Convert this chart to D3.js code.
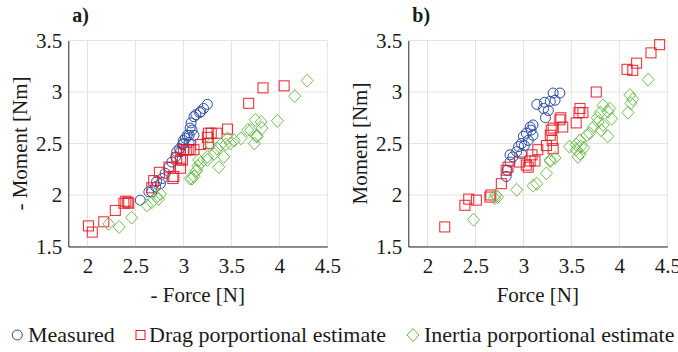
<!DOCTYPE html>
<html>
<head>
<meta charset="utf-8">
<script src="https://cdn.jsdelivr.net/npm/d3@7"></script>
<style>
  body { margin: 0; background: #fff; }
</style>
</head>
<body>
<svg id="chart" width="678" height="352"></svg>
<script>
// panel a) -Force vs -Moment
let measA = [[2.55,1.95],[2.64,2.03],[2.67,2.03],[2.71,2.08],[2.72,2.13],[2.76,2.11],[2.78,2.16],[2.81,2.21],[2.85,2.27],[2.88,2.32],[2.92,2.37],[2.93,2.42],[2.96,2.45],[2.97,2.42],[2.99,2.49],[3.0,2.50],[3.0,2.53],[3.02,2.55],[3.04,2.58],[3.06,2.51],[3.06,2.58],[3.07,2.65],[3.08,2.70],[3.09,2.63],[3.11,2.58],[3.11,2.76],[3.13,2.78],[3.17,2.80],[3.18,2.81],[3.21,2.84],[3.25,2.88]]
let dragA = [[2.01,1.70],[2.05,1.64],[2.17,1.74],[2.29,1.85],[2.38,1.92],[2.40,1.94],[2.42,1.93],[2.43,1.92],[2.67,2.07],[2.69,2.14],[2.75,2.22],[2.85,2.27],[2.89,2.16],[2.90,2.18],[2.93,2.36],[2.97,2.26],[2.97,2.34],[2.99,2.34],[3.0,2.44],[3.03,2.44],[3.05,2.44],[3.07,2.44],[3.11,2.44],[3.18,2.49],[3.25,2.56],[3.26,2.50],[3.26,2.60],[3.29,2.60],[3.35,2.60],[3.46,2.64],[3.68,2.89],[3.83,3.04],[4.05,3.06]]
let inertA = [[2.22,1.72],[2.33,1.69],[2.46,1.78],[2.62,1.90],[2.67,1.93],[2.72,1.98],[2.74,1.96],[2.76,2.01],[3.07,2.16],[3.09,2.16],[3.11,2.18],[3.13,2.23],[3.14,2.24],[3.15,2.28],[3.16,2.34],[3.18,2.31],[3.25,2.34],[3.25,2.37],[3.28,2.49],[3.32,2.40],[3.35,2.45],[3.37,2.27],[3.39,2.49],[3.42,2.37],[3.44,2.49],[3.46,2.55],[3.49,2.50],[3.53,2.53],[3.60,2.55],[3.67,2.63],[3.70,2.63],[3.74,2.50],[3.75,2.73],[3.76,2.57],[3.77,2.57],[3.81,2.71],[3.82,2.65],[3.98,2.72],[4.16,2.96],[4.29,3.11]]

// panel b) Force vs Moment
let measB = [[2.82,2.18],[2.83,2.24],[2.86,2.32],[2.86,2.39],[2.89,2.37],[2.93,2.42],[2.95,2.47],[2.98,2.40],[2.98,2.50],[3.0,2.57],[3.01,2.48],[3.03,2.60],[3.05,2.53],[3.07,2.66],[3.08,2.63],[3.10,2.58],[3.10,2.68],[3.14,2.88],[3.21,2.84],[3.22,2.90],[3.23,2.75],[3.26,2.82],[3.28,2.91],[3.31,2.99],[3.33,2.92],[3.38,2.99]]
let dragB = [[2.18,1.69],[2.39,1.90],[2.43,1.96],[2.51,1.95],[2.65,1.98],[2.66,2.00],[2.77,2.11],[2.82,2.24],[2.84,2.27],[2.96,2.32],[3.03,2.29],[3.05,2.27],[3.07,2.33],[3.09,2.39],[3.12,2.33],[3.15,2.44],[3.24,2.48],[3.28,2.58],[3.29,2.63],[3.30,2.53],[3.31,2.45],[3.31,2.65],[3.38,2.73],[3.39,2.75],[3.41,2.66],[3.55,2.70],[3.58,2.80],[3.59,2.84],[3.62,2.80],[3.76,3.00],[4.08,3.22],[4.14,3.21],[4.18,3.28],[4.33,3.38],[4.42,3.46]]
let inertB = [[2.48,1.76],[2.70,1.97],[2.71,2.00],[2.73,1.98],[2.93,2.05],[3.10,2.09],[3.14,2.11],[3.24,2.21],[3.28,2.33],[3.28,2.34],[3.33,2.36],[3.48,2.47],[3.55,2.44],[3.55,2.49],[3.57,2.37],[3.59,2.40],[3.59,2.53],[3.60,2.47],[3.63,2.46],[3.66,2.58],[3.69,2.60],[3.73,2.66],[3.77,2.75],[3.78,2.71],[3.80,2.80],[3.81,2.63],[3.83,2.68],[3.83,2.87],[3.88,2.57],[3.88,2.81],[3.90,2.84],[3.92,2.74],[4.09,2.80],[4.11,2.97],[4.12,2.89],[4.14,2.93],[4.30,3.12]]

let xTicks = [2, 2.5, 3, 3.5, 4, 4.5]
let yTicks = [1.5, 2, 2.5, 3, 3.5]
let legendLabels = ["Measured", "Drag porportional estimate", "Inertia porportional estimate"]

const blue = "#2c4da3", red = "#e8141e", green = "#62b840"
const serif = '"Liberation Serif"'
const ink = "#1a1a1a"
const svg = d3.select("#chart")

const panels = [
  {left: 68.3, title: "a)", xlab: "- Force [N]", ylab: "- Moment [Nm]", sets: [measA, dragA, inertA]},
  {left: 408.3, title: "b)", xlab: "Force [N]", ylab: "Moment [Nm]", sets: [measB, dragB, inertB]}
]
const plotTop = 40.5, h = 206, w = 259

function marker(g, type, color) {
  if (type === 0) {
    g.append("circle").attr("r", 5).attr("fill", "none").attr("stroke", color).attr("stroke-width", 1)
  } else if (type === 1) {
    g.append("rect").attr("x", -5).attr("y", -5).attr("width", 10).attr("height", 10)
      .attr("fill", "none").attr("stroke", color).attr("stroke-width", 1.1).attr("stroke-opacity", 0.85)
  } else {
    g.append("path").attr("d", "M0,-6.5L6,0L0,6.5L-6,0Z")
      .attr("fill", "none").attr("stroke", color).attr("stroke-width", 1).attr("stroke-opacity", 0.9)
  }
}

panels.forEach(p => {
  let x = d3.scaleLinear().domain([1.8, 4.5]).range([p.left, p.left + w])
  let y = d3.scaleLinear().domain([1.5, 3.5]).range([plotTop + h, plotTop])
  let g = svg.append("g")

  // grid
  g.selectAll(".gx").data(xTicks).enter().append("line")
    .attr("x1", d => x(d)).attr("x2", d => x(d)).attr("y1", plotTop).attr("y2", plotTop + h)
    .attr("stroke", "#e3e3e3").attr("stroke-width", 1)
  g.selectAll(".gy").data(yTicks).enter().append("line")
    .attr("x1", p.left).attr("x2", p.left + w).attr("y1", d => y(d)).attr("y2", d => y(d))
    .attr("stroke", "#e3e3e3").attr("stroke-width", 1)

  // axes
  let xa = g.append("g").attr("transform", `translate(0,${plotTop + h})`)
    .call(d3.axisBottom(x).tickValues(xTicks).tickSize(0).tickPadding(12).tickFormat(d3.format("")))
  let ya = g.append("g").attr("transform", `translate(${p.left},0)`)
    .call(d3.axisLeft(y).tickValues(yTicks).tickSize(0).tickPadding(6).tickFormat(d3.format("")))
  ;[xa, ya].forEach(a => {
    a.select(".domain").attr("stroke", "#262626").attr("stroke-width", 1)
    a.selectAll("text").style("font-family", serif).style("font-size", "21px").attr("fill", ink)
  })

  // data
  const colors = [blue, red, green]
  p.sets.forEach((set, k) => {
    g.append("g").selectAll("g").data(set).enter().append("g")
      .attr("transform", d => `translate(${x(d[0])},${y(d[1])})`)
      .each(function () { marker(d3.select(this), k, colors[k]) })
  })

  // labels
  g.append("text").attr("x", p.left + 4).attr("y", 22).attr("fill", ink)
    .style("font-family", serif).style("font-size", "20px").style("font-weight", "bold").text(p.title)
  g.append("text").attr("x", p.left + w / 2).attr("y", 302).attr("text-anchor", "middle").attr("fill", ink)
    .style("font-family", serif).style("font-size", "21px").text(p.xlab)
  g.append("text").attr("transform", `translate(${p.left - 41},${plotTop + h / 2}) rotate(-90)`)
    .attr("text-anchor", "middle").attr("fill", ink)
    .style("font-family", serif).style("font-size", "21px").text(p.ylab)
})

// legend
const legX = [[17.3, 28], [140.5, 149], [413, 424]]
legendLabels.forEach((lab, k) => {
  let lg = svg.append("g").attr("transform", `translate(${legX[k][0]},335)`)
  if (k === 0) lg.append("circle").attr("r", 5).attr("fill", "none").attr("stroke", blue)
  if (k === 1) lg.append("rect").attr("x", -4.5).attr("y", -4.5).attr("width", 9).attr("height", 9).attr("fill", "none").attr("stroke", red)
  if (k === 2) lg.append("path").attr("d", "M0,-6.5L6,0L0,6.5L-6,0Z").attr("fill", "none").attr("stroke", green)
  svg.append("text").attr("x", legX[k][1]).attr("y", 342).attr("fill", ink)
    .style("font-family", serif).style("font-size", "22px").text(lab)
})
</script>
</body>
</html>
